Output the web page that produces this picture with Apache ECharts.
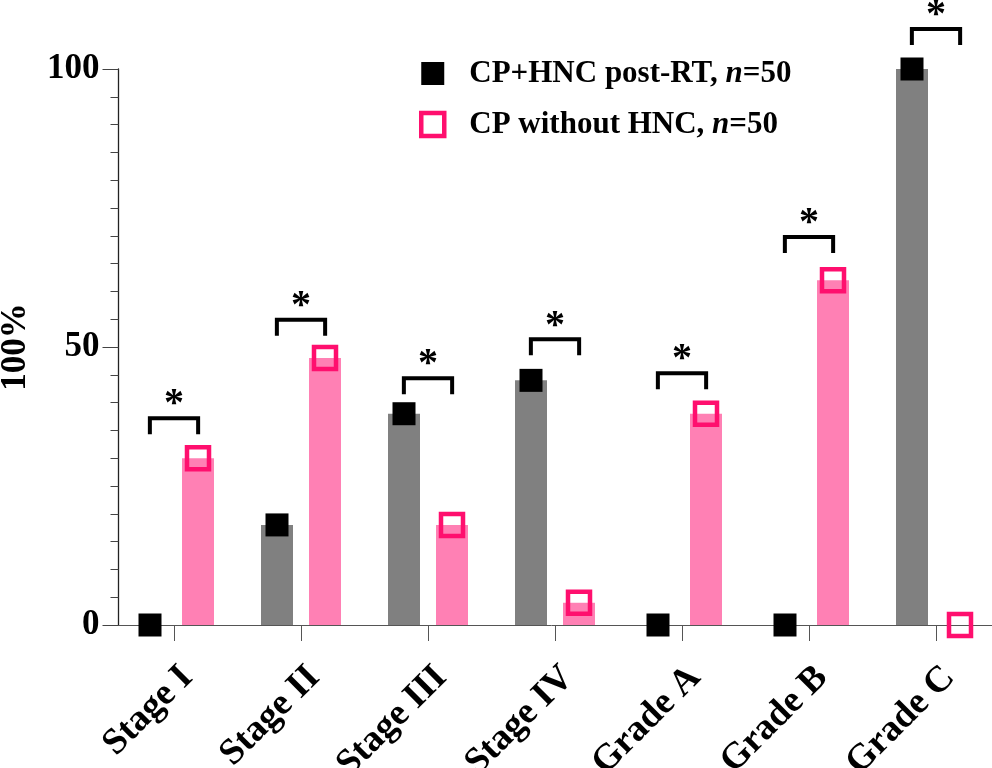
<!DOCTYPE html>
<html>
<head>
<meta charset="utf-8">
<script src="https://cdn.jsdelivr.net/npm/echarts@6/dist/echarts.min.js"></script>
<style>
html,body{margin:0;padding:0;background:#fff;}
#chart{width:992px;height:768px;}
</style>
</head>
<body>
<div id="chart"></div>
<script>
// ---- data ----
const categories = ['Stage I', 'Stage II', 'Stage III', 'Stage IV', 'Grade A', 'Grade B', 'Grade C'];
const seriesNames = ['CP+HNC post-RT, n=50', 'CP without HNC, n=50'];
const withHNC = [0, 18, 38, 44, 0, 0, 100];
const withoutHNC = [30, 48, 18, 4, 38, 62, 0];
const sigBracket = [37.2, 54.9, 44.4, 51.4, 45.3, 69.8, 107.2];
const yTicks = [0, 50, 100];

const FONT = "'Liberation Serif', 'Times New Roman', serif";
const GRAY = '#808080';
const PINK_BAR = '#FF80B4';
const PINK = '#FF0F6E';

const chart = echarts.init(document.getElementById('chart'), null, {renderer: 'canvas'});

const option = {
  backgroundColor: '#ffffff',
  animation: false,
  grid: {left: 110.5, top: 69, width: 889, height: 556, containLabel: false, outerBoundsMode: 'none'},
  legend: {
    orient: 'vertical',
    left: 419,
    top: 58,
    padding: 0,
    itemGap: 20,
    itemWidth: 23,
    itemHeight: 23,
    data: [
      {name: seriesNames[0], itemStyle: {color: '#000', borderWidth: 0}},
      {name: seriesNames[1], itemStyle: {color: 'rgba(0,0,0,0)', borderColor: PINK, borderWidth: 4.5}}
    ],
    formatter: function (name) {
      const parts = name.split('n=');
      return '{a|' + parts[0] + '}{i|n}{a|=' + parts[1] + '}';
    },
    textStyle: {
      padding: [0, 0, 0, 20],
      rich: {
        a: {fontFamily: FONT, fontWeight: 'bold', fontSize: 31, color: '#000', lineHeight: 31},
        i: {fontFamily: FONT, fontWeight: 'bold', fontStyle: 'italic', fontSize: 31, color: '#000', lineHeight: 31}
      }
    }
  },
  xAxis: {
    type: 'category',
    data: categories,
    boundaryGap: true,
    axisLine: {show: true, lineStyle: {color: '#555', width: 1}},
    axisTick: {show: true, alignWithLabel: true, length: 16, lineStyle: {color: '#555', width: 1}},
    axisLabel: {
      rotate: 45,
      margin: 34,
      verticalAlign: 'top',
      fontFamily: FONT,
      fontWeight: 'bold',
      fontSize: 37,
      color: '#000'
    },
    splitLine: {show: false}
  },
  yAxis: {
    type: 'value',
    min: yTicks[0],
    max: yTicks[yTicks.length - 1],
    interval: 50,
    offset: -8,
    name: '100%',
    nameLocation: 'middle',
    nameGap: 85,
    nameTextStyle: {fontFamily: FONT, fontWeight: 'bold', fontSize: 35, color: '#000'},
    axisLine: {show: true, lineStyle: {color: '#222', width: 1.3}},
    axisTick: {show: true, length: 16, lineStyle: {color: '#444', width: 1}},
    minorTick: {show: true, splitNumber: 10, length: 8, lineStyle: {color: '#444', width: 1}},
    axisLabel: {margin: 19, fontFamily: FONT, fontWeight: 'bold', fontSize: 35, color: '#000'},
    splitLine: {show: false},
    minorSplitLine: {show: false}
  },
  series: [
    {
      type: 'bar',
      data: withHNC,
      barWidth: 32,
      barGap: '50%',
      itemStyle: {color: GRAY},
      silent: true,
      z: 2
    },
    {
      type: 'bar',
      data: withoutHNC,
      barWidth: 32,
      barGap: '50%',
      itemStyle: {color: PINK_BAR},
      silent: true,
      z: 2
    },
    {
      name: seriesNames[0],
      type: 'scatter',
      data: withHNC,
      symbol: 'rect',
      symbolSize: 23,
      symbolOffset: [-24, 0],
      itemStyle: {color: '#000', opacity: 1},
      clip: false,
      z: 5
    },
    {
      name: seriesNames[1],
      type: 'scatter',
      data: withoutHNC,
      symbol: 'rect',
      symbolSize: 22,
      symbolOffset: [24, 0],
      itemStyle: {color: 'rgba(0,0,0,0)', borderColor: PINK, borderWidth: 4.5, opacity: 1},
      clip: false,
      z: 5
    },
    {
      type: 'custom',
      data: sigBracket.map((v, i) => [i, v]),
      clip: false,
      z: 6,
      silent: true,
      renderItem: function (params, api) {
        const p = api.coord([api.value(0), api.value(1)]);
        const half = api.size([1, 0])[0] * 0.19;
        const leg = 16;
        return {
          type: 'group',
          children: [
            {
              type: 'polyline',
              shape: {points: [[p[0] - half, p[1] + leg], [p[0] - half, p[1]], [p[0] + half, p[1]], [p[0] + half, p[1] + leg]]},
              style: {stroke: '#000', lineWidth: 4, fill: null, lineJoin: 'miter'}
            },
            {
              type: 'text',
              x: p[0],
              y: p[1] + 7,
              style: {text: '*', fontFamily: FONT, fontWeight: 'bold', fontSize: 40, fill: '#000', align: 'center', verticalAlign: 'bottom'}
            }
          ]
        };
      }
    }
  ]
};
chart.setOption(option);
</script>
</body>
</html>
